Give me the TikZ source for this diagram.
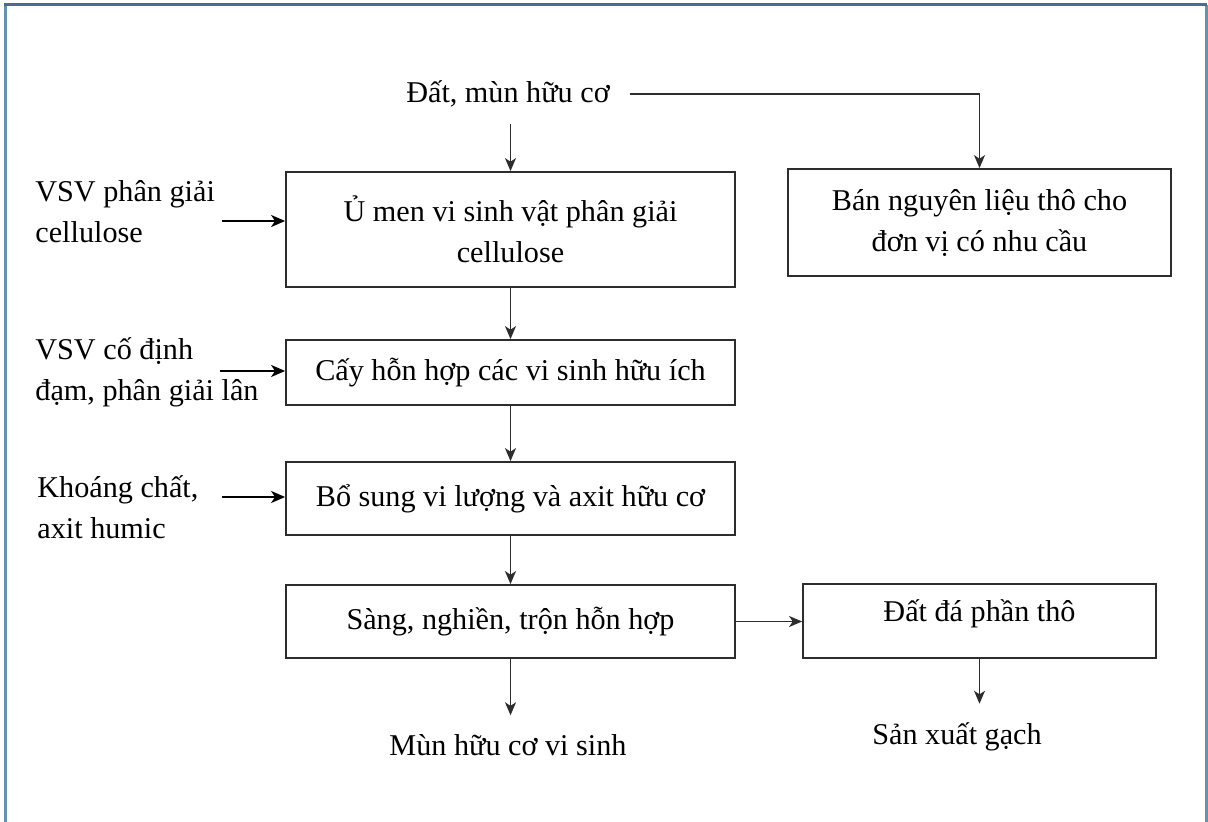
\documentclass[tikz,border=0pt]{standalone}
\usepackage{fontspec}
\setmainfont{Liberation Serif}
\usetikzlibrary{arrows.meta}
\definecolor{frametop}{RGB}{74,108,146}
\definecolor{frameside}{RGB}{100,146,176}
\definecolor{ink}{RGB}{45,45,45}

\begin{document}
\begin{tikzpicture}[x=0.5pt,y=-0.5pt,
  every node/.style={font=\fontsize{15.1}{20.5}\selectfont, text=black},
  procbox/.style={draw=ink, line width=0.9pt, inner sep=0pt, align=center},
  flow/.style={draw=ink, line width=0.7pt, -{Stealth[length=6.5pt,width=5.5pt,inset=1.8pt]}},
  feed/.style={draw=black, line width=1.1pt, -{Stealth[length=7pt,width=6pt,inset=2pt]}},
  inlabel/.style={anchor=west, align=left, inner sep=0pt}]

% page area and surrounding frame
\useasboundingbox (0,0) rectangle (1208,822);
\fill[white] (0,0) rectangle (1208,822);
\draw[frameside, line width=1.5pt] (5,830) -- (5,5);
\draw[frameside, line width=1.5pt] (1206,5) -- (1206,830);
\draw[frametop, line width=1.5pt] (4,5) -- (1207,5);

% source and process boxes
\node (src) at (508,94) {Đất, mùn hữu cơ};
\node[procbox, minimum width=224.5pt, minimum height=57.5pt] (b1) at (510.5,229.5)
  {Ủ men vi sinh vật phân giải\\cellulose};
\node[procbox, minimum width=191.5pt, minimum height=53.5pt] (ban) at (979.5,222.5)
  {Bán nguyên liệu thô cho\\đơn vị có nhu cầu};
\node[procbox, minimum width=224.5pt, minimum height=32.5pt] (b2) at (510.5,372.5)
  {Cấy hỗn hợp các vi sinh hữu ích};
\node[procbox, minimum width=224.5pt, minimum height=36.5pt] (b3) at (510.5,498.5)
  {Bổ sung vi lượng và axit hữu cơ};
\node[procbox, minimum width=224.5pt, minimum height=36.5pt] (b4) at (510.5,621.5)
  {Sàng, nghiền, trộn hỗn hợp};
\node[procbox, minimum width=176.5pt, minimum height=37pt, text height=10.5pt, text depth=10pt] (b5) at (979.5,621)
  {Đất đá phần thô};

% products
\node (out1) at (508,745) {Mùn hữu cơ vi sinh};
\node (out2) at (957,737) {Sản xuất gạch};

% additives fed from the left
\node[inlabel] (in1) at (35,212) {VSV phân giải\\cellulose};
\node[inlabel] (in2) at (35,372) {VSV cố định\\đạm, phân giải lân};
\node[inlabel] (in3) at (37,507) {Khoáng chất,\\axit humic};
\coordinate (f1) at (222,221);
\coordinate (f2) at (220,371);
\coordinate (f3) at (222,497);

% connectors
\draw[flow, shorten <=5pt] (src.south -| b1.north) -- (b1.north);
\draw[flow, shorten <=6.5pt] (src.east) -| (ban.north);
\draw[flow] (b1.south) -- (b2.north);
\draw[flow] (b2.south) -- (b3.north);
\draw[flow] (b3.south) -- (b4.north);
\draw[flow, shorten >=6pt] (b4.south) -- (b4.south |- out1.north);
\draw[flow] (b4.east) -- (b4.east -| b5.west);
\draw[flow, shorten >=6pt] (b5.south) -- (b5.south |- out2.north);
\draw[feed] (f1) -- (f1 -| b1.west);
\draw[feed] (f2) -- (f2 -| b2.west);
\draw[feed] (f3) -- (f3 -| b3.west);
\end{tikzpicture}
\end{document}
